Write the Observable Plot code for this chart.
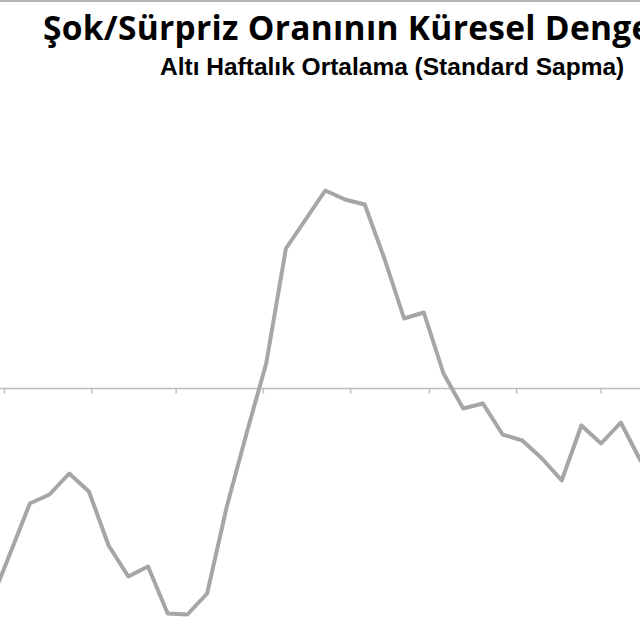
<!DOCTYPE html>
<html>
<head>
<meta charset="utf-8">
<script src="https://cdn.jsdelivr.net/npm/d3@7"></script>
<script src="https://cdn.jsdelivr.net/npm/@observablehq/plot@0.6"></script>
<style>
  body { margin: 0; background: #fff; width: 640px; height: 640px; overflow: hidden; }
  #baslik { position: relative; height: 100px; box-sizing: border-box; border-top: 2px solid #b4b4b4; overflow: hidden; }
  #baslik .t { position: absolute; left: 43px; top: 9.3px; font: bold 33.5px/33.5px "Open Sans", sans-serif; letter-spacing: 0.3px; color: #000; white-space: nowrap; }
  #baslik .s { position: absolute; left: 160px; top: 53.3px; font: bold 24.5px/24.5px "Liberation Sans", Arial, sans-serif; color: #000; white-space: nowrap; }
  #grafik svg { display: block; }
</style>
</head>
<body>
<div id="baslik">
  <div class="t">Şok/Sürpriz Oranının Küresel Dengesi</div>
  <div class="s">Altı Haftalık Ortalama (Standard Sapma)</div>
</div>
<div id="grafik"></div>
<script>
// haftalik veri, ilk nokta 26 Eylul 2012
const ilkHafta = new Date(Date.UTC(2012, 8, 26))
const degerler = [
  -2.14, -1.65, -1.15, -1.06, -0.85, -1.03, -1.57, -1.88, -1.78, -2.25,
  -2.26, -2.05, -1.18, -0.45, 0.25, 1.40, 1.69, 1.98, 1.89, 1.84,
  1.30, 0.70, 0.76, 0.15, -0.20, -0.15, -0.46, -0.52, -0.70, -0.92,
  -0.37, -0.55, -0.34, -0.72
]
// aylik tik isaretleri
const aylar = d3.utcMonth.range(new Date(Date.UTC(2012, 9, 1)), new Date(Date.UTC(2013, 5, 1)))

let veri = degerler.map((v, i) => ({ tarih: d3.utcDay.offset(ilkHafta, 7 * i), deger: v }))

let chart = Plot.plot({
  width: 640,
  height: 540,
  margin: 0,
  x: { type: "utc", domain: [new Date("2012-09-29T14:00Z"), new Date("2013-05-15T00:00Z")], axis: null },
  y: { domain: [-2.52, 2.88], axis: null },
  marks: [
    Plot.ruleY([0], { stroke: "#bdbdbd", strokeWidth: 1.5 }),
    Plot.ruleX(aylar, { x: d => d, y1: 0, y2: -0.055, stroke: "#bdbdbd", strokeWidth: 1.5 }),
    Plot.line(veri, {
      x: "tarih",
      y: "deger",
      stroke: "#a6a6a6",
      strokeWidth: 4,
      clip: true
    })
  ]
})

d3.select('#grafik').append(() => chart)
</script>
</body>
</html>
